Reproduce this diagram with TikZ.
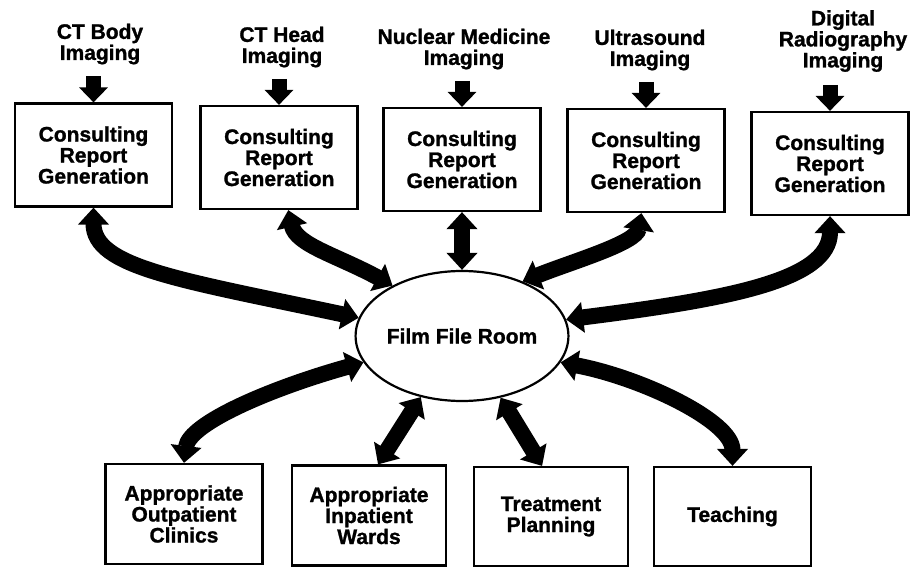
\documentclass[tikz,border=0pt]{standalone}
\usepackage{fontspec}
\setmainfont{Liberation Sans}[BoldFeatures={FakeBold=1.2}]
\usetikzlibrary{calc,arrows.meta,shapes.geometric}

\begin{document}
\begin{tikzpicture}[x=1pt,y=-1pt,
        every node/.style={font=\bfseries\fontsize{21}{21}\selectfont, align=center},
        rbox/.style={draw, line width=2.2pt, minimum width=157pt, minimum height=103pt, inner sep=0pt},
        fatarrow/.style={line width=16pt, {Triangle[width=30pt,length=17pt]}-{Triangle[width=30pt,length=17pt]}},
        downarrow/.style={line width=15pt, -{Triangle[width=28pt,length=15pt]}}]
        \useasboundingbox (0,0) rectangle (917,567);

        % imaging sources
        \node (tA) at (100,44) {CT Body\\Imaging};
        \node (tB) at (282,47) {CT Head\\Imaging};
        \node (tC) at (464,49) {Nuclear Medicine\\Imaging};
        \node (tD) at (650,50) {Ultrasound\\Imaging};
        \node (tE) at (843,41) {Digital\\Radiography\\Imaging};

        % report boxes
        \node[rbox] (rA) at (93.5,155) {Consulting\\Report\\Generation};
        \node[rbox] (rB) at (279,157.5) {Consulting\\Report\\Generation};
        \node[rbox] (rC) at (462,159.5) {Consulting\\Report\\Generation};
        \node[rbox] (rD) at (646,160.5) {Consulting\\Report\\Generation};
        \node[rbox] (rE) at (830,163.5) {Consulting\\Report\\Generation};

        \node[draw, ellipse, line width=2.2pt, minimum width=206pt, minimum height=130pt, inner sep=0pt] (ffr) at (462,336) {Film File Room};

        % users
        \node[rbox, minimum height=100pt] (bA) at (184,514) {Appropriate\\Outpatient\\Clinics};
        \node[rbox, minimum height=100pt, minimum width=154pt] (bB) at (369,515.5) {Appropriate\\Inpatient\\Wards};
        \node[rbox, minimum height=99pt, minimum width=154pt] (bC) at (551,516.5) {Treatment\\Planning};
        \node[rbox, minimum height=99pt] (bD) at (732.5,516.5) {Teaching};

        \foreach \r in {rA,rB,rC,rD,rE}
            \draw[downarrow] ([yshift=26pt]\r.north) -- (\r.north);

        \draw[fatarrow] (rA.south) .. controls +(0,60) and +(-178,-38) .. (ffr.170);
        \draw[fatarrow] (rB.-80) .. controls +(8,35) and +(-55,-30) .. (ffr.144);
        \draw[fatarrow] (rC.south) -- (ffr.north);
        \draw[fatarrow] (rD.-95) .. controls +(-5,30) and +(50,-20) .. (ffr.42);
        \draw[fatarrow] (rE.south) .. controls +(0,65) and +(158,-20) .. (ffr.9);

        \draw[fatarrow] (bA.north) .. controls +(5,-40) and +(-90,25) .. (ffr.195);
        \draw[fatarrow] (bB.80) -- (ffr.236);
        \draw[fatarrow] (bC.100) -- (ffr.302);
        \draw[fatarrow] (bD.north) .. controls +(0,-45) and +(80,15) .. (ffr.345);
    \end{tikzpicture}
\end{document}
